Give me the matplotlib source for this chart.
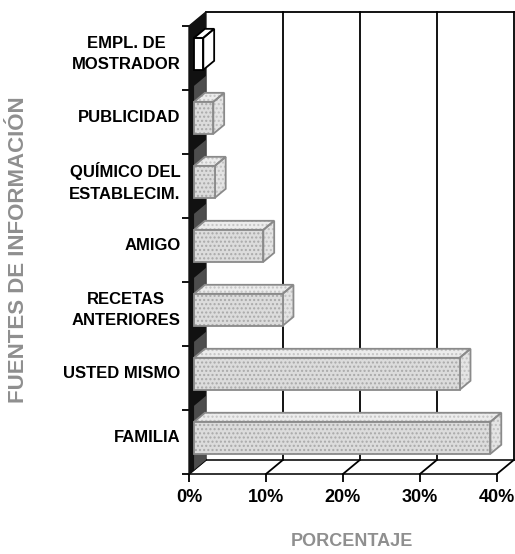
"""
3D-look horizontal bar chart: fuentes de informacion (porcentaje)
"""

import matplotlib
matplotlib.use('Agg')
import matplotlib.pyplot as plt
from matplotlib.patches import Polygon

plt.rcParams['font.family'] = ['Liberation Sans', 'DejaVu Sans']

# data (bottom to top)
categories = ['FAMILIA', 'USTED MISMO', 'RECETAS\nANTERIORES', 'AMIGO',
              'QUÍMICO DEL\nESTABLECIM.', 'PUBLICIDAD', 'EMPL. DE\nMOSTRADOR']
values = [38.5, 34.5, 11.5, 9.0, 2.7, 2.5, 1.2]
x_ticks = [0, 10, 20, 30, 40]
x_title = 'PORCENTAJE'
y_title = 'FUENTES DE INFORMACIÓN'

# depth of the box (back wall offset) in data units
DX, DY = 2.2, 0.22
Z0, Z1 = 0.3, 0.94   # bar front / back depth (0 = front, 1 = back)
W = 0.5              # bar thickness
SHADE = 0.25         # height of the grey shade on the wall above a bar / the floor


def proj(x, y, z):
    return (x + z * DX, y + z * DY)


def face(ax, pts, fc, hatch_col, edge, zorder, hatch='....'):
    if hatch_col is not None:
        ax.add_patch(Polygon(pts, closed=True, facecolor=fc, edgecolor=hatch_col,
                             hatch=hatch, linewidth=0, zorder=zorder))
    else:
        ax.add_patch(Polygon(pts, closed=True, facecolor=fc, linewidth=0, zorder=zorder))
    ax.add_patch(Polygon(pts, closed=True, fill=False, edgecolor=edge,
                         linewidth=1.3, joinstyle='miter', zorder=zorder + 0.1))


def wall_shade(ax, y0):
    pts = [proj(0, y0, Z0), proj(0, y0, 1), proj(0, y0 + SHADE, 1), proj(0, y0 + SHADE, Z0)]
    ax.add_patch(Polygon(pts, closed=True, facecolor='#4d4d4d', lw=0, zorder=2.5))


fig = plt.figure(figsize=(5.15, 5.54), dpi=100)
ax = fig.add_axes([189 / 515, 80 / 554, 326 / 515, 462 / 554])
n = len(categories)
x_max = x_ticks[-1]
ax.set_xlim(0, x_max + DX + 0.15)
ax.set_ylim(-0.5, n - 0.5 + DY)
for sp in ax.spines.values():
    sp.set_visible(False)

## back wall grid
for t in x_ticks[1:]:
    (x0, y0), (x1, y1) = proj(t, -0.5, 1), proj(t, n - 0.5, 1)
    ax.plot([x0, x1], [y0, y1], color='black', lw=1.3, zorder=1, clip_on=False)
(x0, y0), (x1, y1) = proj(0, n - 0.5, 1), proj(x_max, n - 0.5, 1)
ax.plot([x0, x1], [y0, y1], color='black', lw=1.3, zorder=1, clip_on=False)

## floor
for z in (0, 1):
    (x0, y0), (x1, y1) = proj(0, -0.5, z), proj(x_max, -0.5, z)
    ax.plot([x0, x1], [y0, y1], color='#222222', lw=1.3, zorder=1, clip_on=False)
for t in x_ticks:
    (x0, y0), (x1, y1) = proj(t, -0.5, 0), proj(t, -0.5, 1)
    ax.plot([x0, x1], [y0, y1], color='black', lw=1.3, zorder=1, clip_on=False)

## left wall (black)
wall = [proj(0, -0.5, 0), proj(0, n - 0.5, 0), proj(0, n - 0.5, 1), proj(0, -0.5, 1)]
ax.add_patch(Polygon(wall, closed=True, facecolor='#111111', edgecolor='#111111',
                     lw=1, zorder=2, clip_on=False))
wall_shade(ax, -0.5)

## bars
for i, v in enumerate(values):
    plain = v < 2
    if not plain:
        wall_shade(ax, i + W / 2)
    front = [proj(0, i - W / 2, Z0), proj(v, i - W / 2, Z0),
             proj(v, i + W / 2, Z0), proj(0, i + W / 2, Z0)]
    top = [proj(0, i + W / 2, Z0), proj(v, i + W / 2, Z0),
           proj(v, i + W / 2, Z1), proj(0, i + W / 2, Z1)]
    side = [proj(v, i - W / 2, Z0), proj(v, i - W / 2, Z1),
            proj(v, i + W / 2, Z1), proj(v, i + W / 2, Z0)]
    if plain:
        for pts in (top, side, front):
            face(ax, pts, 'white', None, 'black', 3)
    else:
        face(ax, top, '#ececec', '#c4c4c4', '#8a8a8a', 3)
        face(ax, side, '#e4e4e4', '#c0c0c0', '#8a8a8a', 3)
        face(ax, front, '#dcdcdc', '#a9a9a9', '#8a8a8a', 3.3)

## ticks and labels (labels centred on the bar front faces)
ax.set_yticks([i + Z0 * DY for i in range(n)], categories, multialignment='center',
              linespacing=1.55, fontsize=12, fontweight='bold', va='center')
ax.set_yticks([i - 0.5 for i in range(n + 1)], minor=True)
ax.tick_params(axis='y', which='major', length=0, pad=6)
ax.tick_params(axis='y', which='minor', length=5, width=1.3, direction='out')
ax.set_xticks(x_ticks, [f'{t}%' for t in x_ticks], fontsize=13, fontweight='bold')
ax.tick_params(axis='x', length=5.5, width=1.3, pad=5, direction='out')

fig.text(19 / 515, 1 - 250 / 554, y_title, rotation=90, ha='center', va='center',
         fontsize=16, fontweight='bold', color='#8f8f8f')
fig.text(352 / 515, 1 - 541 / 554, x_title, ha='center', va='center',
         fontsize=13, fontweight='bold', color='#8f8f8f')

fig.savefig('out.png', dpi=100)
